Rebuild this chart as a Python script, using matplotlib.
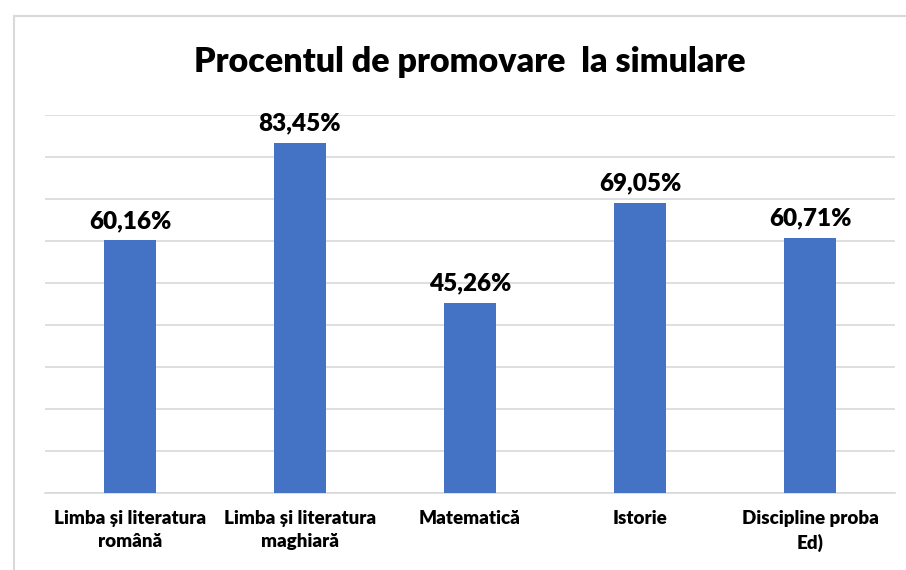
import numpy as np
import matplotlib.pyplot as plt
from matplotlib.lines import Line2D

categories = ['Limba și literatura\nromână', 'Limba și literatura\nmaghiară',
              'Matematică', 'Istorie', 'Discipline proba\nEd)']
values = [60.16, 83.45, 45.26, 69.05, 60.71]
value_labels = ['60,16%', '83,45%', '45,26%', '69,05%', '60,71%']

plt.rcParams['font.family'] = ['Lato', 'DejaVu Sans']

fig = plt.figure(figsize=(9.06, 5.70), dpi=100)
ax = fig.add_axes([45/906, 77/570, 850/906, 378/570])

x = np.arange(len(categories))
ax.bar(x, values, width=0.31, color='#4472C4', zorder=3)
for xi, v, lab in zip(x, values, value_labels):
    ax.text(xi, v + 2.0, lab, ha='center', va='bottom', fontsize=17.5,
            fontweight='heavy', color='black')

ax.set_xlim(-0.5, len(categories) - 0.5)
ax.set_ylim(0, 90)
ax.set_yticks(np.arange(0, 91, 10))
ax.yaxis.grid(True, color='#D9D9D9', linewidth=1.2, zorder=0)
ax.set_yticklabels([])
ax.tick_params(axis='y', length=0)
ax.tick_params(axis='x', length=0, pad=12)
ax.set_xticks(x)
ax.set_xticklabels(categories, fontsize=13.5, fontweight='heavy',
                   linespacing=1.45)
for s in ['top', 'right', 'left']:
    ax.spines[s].set_visible(False)
ax.spines['bottom'].set_color('#D9D9D9')
ax.spines['bottom'].set_linewidth(1.2)

fig.text(470/906, 1 - 62/570, 'Procentul de promovare  la simulare',
         ha='center', va='center', fontsize=24.5, fontweight='heavy')

# chart frame
fig.add_artist(Line2D([14/906, 14/906], [0, 1 - 16/570], color='#D9D9D9',
                      linewidth=1.5, transform=fig.transFigure))
fig.add_artist(Line2D([14/906, 1], [1 - 16/570, 1 - 16/570], color='#D9D9D9',
                      linewidth=1.5, transform=fig.transFigure))

fig.savefig('out.png', dpi=100)
